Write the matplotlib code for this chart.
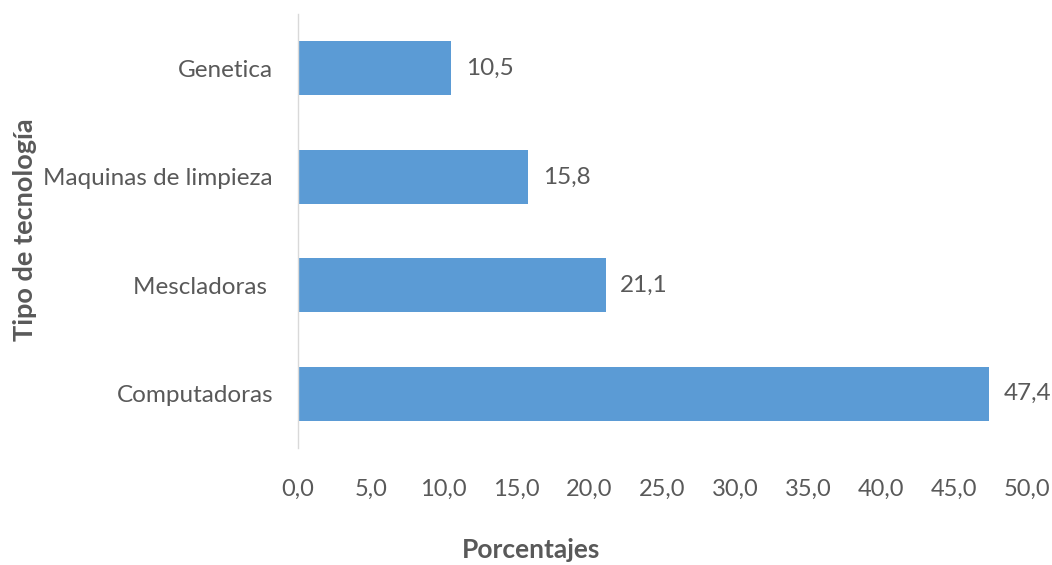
import matplotlib
matplotlib.use('Agg')
import matplotlib.pyplot as plt
import numpy as np

# data
categories = ['Computadoras', 'Mescladoras ', 'Maquinas de limpieza', 'Genetica']
values = [47.4, 21.1, 15.8, 10.5]
xticks = [0, 5, 10, 15, 20, 25, 30, 35, 40, 45, 50]

gray = '#595959'
blue = '#5B9BD5'
plt.rcParams['font.family'] = ['Lato', 'DejaVu Sans']

fig = plt.figure(figsize=(10.52, 5.65), dpi=100)
ax = fig.add_axes([0.2833, 0.207, 0.9762 - 0.2833, 0.768])

y = np.arange(len(categories))
bars = ax.barh(y, values, height=0.5, color=blue)
for b, v in zip(bars, values):
    ax.text(b.get_width() + 1.0, b.get_y() + b.get_height() / 2, f'{v:.1f}'.replace('.', ','),
            va='center', ha='left', fontsize=17.5, color=gray)

ax.set_xlim(0, 50)
ax.set_ylim(-0.5, 3.5)
ax.set_xticks(xticks)
ax.set_xticklabels([f'{t:.1f}'.replace('.', ',') for t in xticks], fontsize=17, color=gray)
ax.set_yticks(y)
ax.set_yticklabels(categories, fontsize=17.5, color=gray)
ax.tick_params(length=0)
ax.tick_params(axis='x', pad=22)
ax.tick_params(axis='y', pad=18)

for s in ['top', 'right', 'bottom']:
    ax.spines[s].set_visible(False)
ax.spines['left'].set_color('#D9D9D9')
ax.spines['left'].set_linewidth(1)

# axis titles (centred as in the original)
fig.text(531 / 1052, 1 - 550 / 565, 'Porcentajes', fontsize=19, fontweight='bold',
         color=gray, ha='center', va='center')
fig.text(25 / 1052, 1 - 230 / 565, 'Tipo de tecnología', fontsize=19.5, fontweight='bold',
         color=gray, ha='center', va='center', rotation=90)

fig.savefig('out.png', dpi=100)
